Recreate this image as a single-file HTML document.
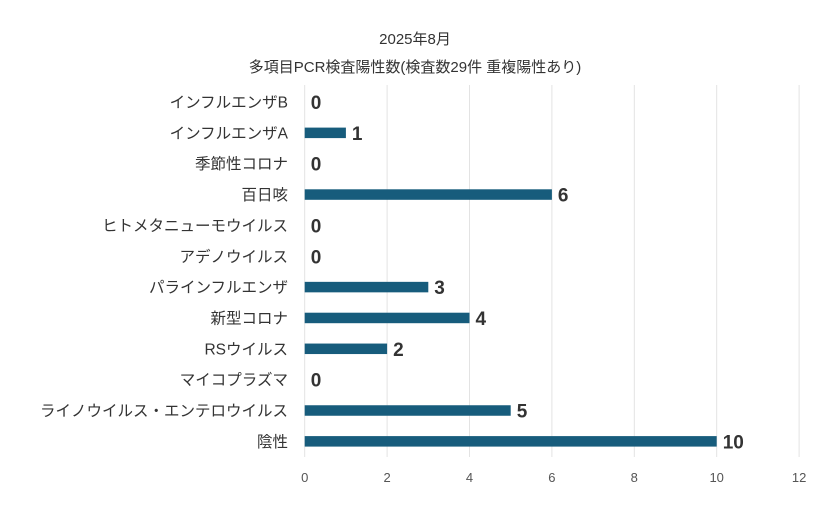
<!DOCTYPE html>
<html><head><meta charset="utf-8"><style>
body{margin:0;background:#fff;font-family:"Liberation Sans","Noto Sans CJK JP",sans-serif;}
svg text{font-family:"Liberation Sans","Noto Sans CJK JP",sans-serif;}
</style></head><body>
<svg id="chart" width="830" height="510" viewBox="0 0 830 510" xmlns="http://www.w3.org/2000/svg">
<text x="415" y="44" text-anchor="middle" font-size="15" fill="#333">2025年8月</text>
<text x="415" y="72" text-anchor="middle" font-size="15" fill="#333">多項目PCR検査陽性数(検査数29件 重複陽性あり)</text>
<g id="grid"></g><g id="bars"></g><g id="labels"></g>
</svg>
<script>
const categories=["インフルエンザB","インフルエンザA","季節性コロナ","百日咳","ヒトメタニューモウイルス","アデノウイルス","パラインフルエンザ","新型コロナ","RSウイルス","マイコプラズマ","ライノウイルス・エンテロウイルス","陰性"];
const values=[0,1,0,6,0,0,3,4,2,0,5,10];
const ticks=[0,2,4,6,8,10,12];
const NS="http://www.w3.org/2000/svg";
const x0=304.7,xs=41.2,y0=102,ys=30.85,bh=10.5;
const X=v=>x0+v*xs, Y=i=>y0+i*ys;
const grid=document.getElementById('grid'),bars=document.getElementById('bars'),labels=document.getElementById('labels');
function mk(tag,attrs,parent,txt){const e=document.createElementNS(NS,tag);for(const k in attrs)e.setAttribute(k,attrs[k]);if(txt!==undefined)e.textContent=txt;parent.appendChild(e);return e;}
ticks.forEach(t=>{
 const l=mk('line',{x1:X(t),x2:X(t),y1:85,y2:457,stroke:'#e3e3e3','stroke-width':1},grid);
 
 
 const tx=mk('text',{x:X(t),y:482,'text-anchor':'middle','font-size':13,fill:'#555'},grid,String(t));
 
 
});
categories.forEach((c,i)=>{
 const cy=Y(i);
 const lb=mk('text',{x:288,y:cy+5.5,'text-anchor':'end','font-size':15.5,fill:'#333'},labels,c);
 
 
 const v=values[i];
 if(v>0){
  const r=mk('rect',{x:X(0),y:cy-bh/2,width:X(v)-X(0),height:bh,fill:'#175c7c'},bars);
  
  
 }
 const vt=mk('text',{x:X(v)+6,y:cy+7,'font-size':19,'font-weight':'bold',fill:'#333'},labels,String(v));
 
 
});
</script>
</body></html>
